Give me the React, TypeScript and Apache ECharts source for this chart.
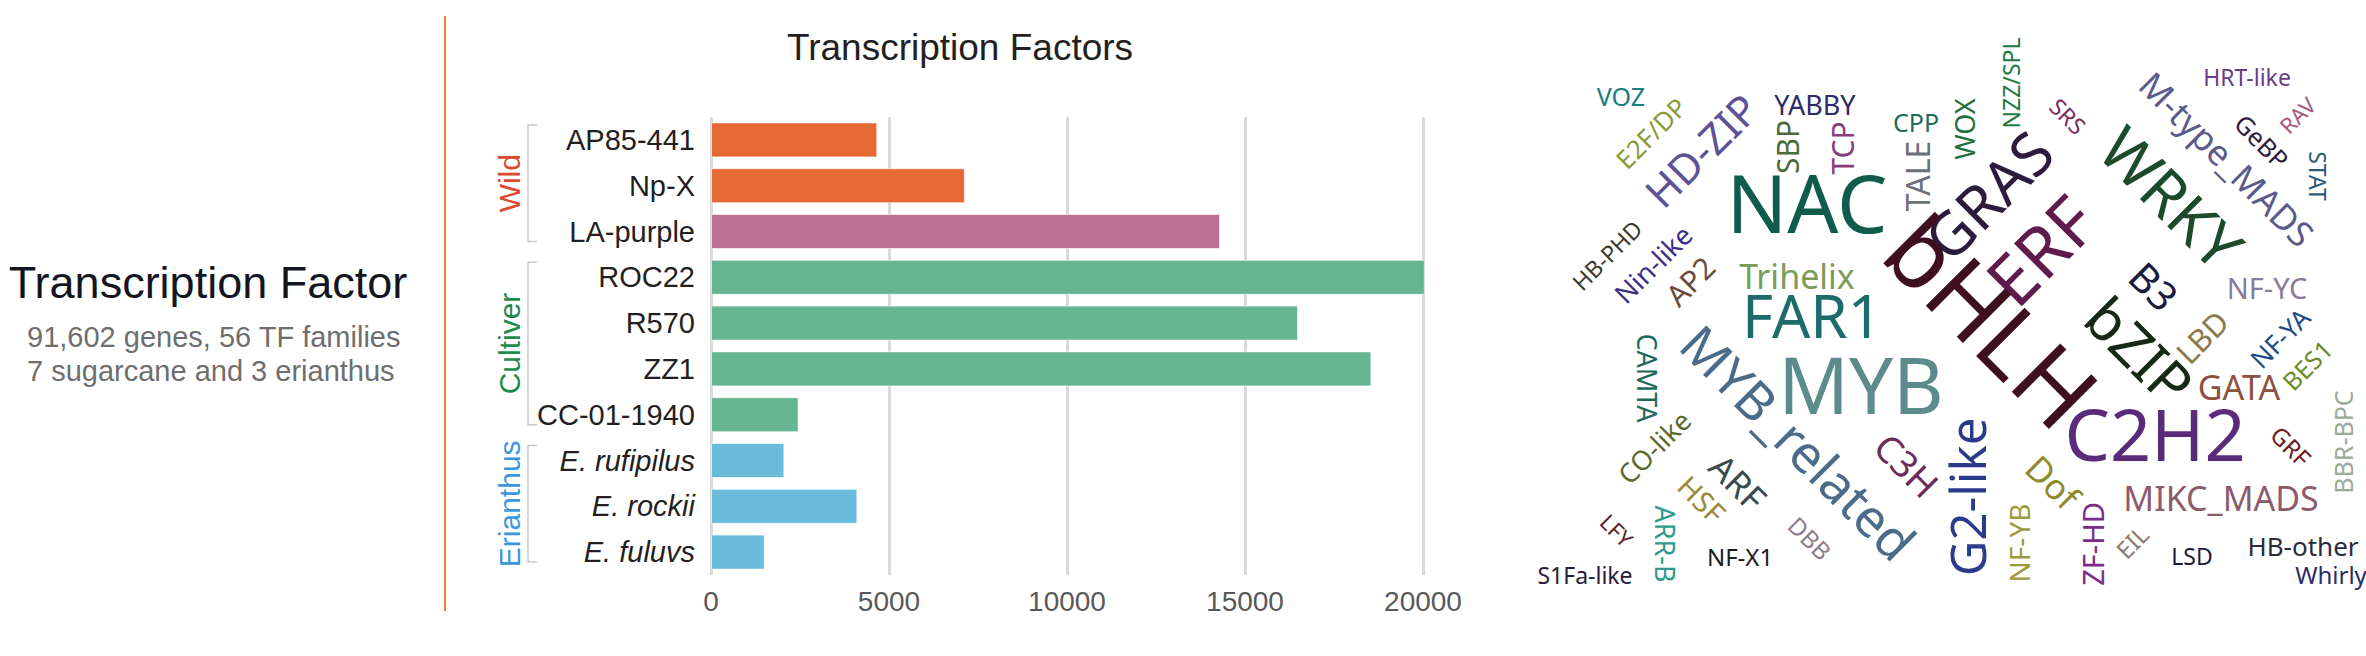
import React, { useEffect, useRef } from 'react';
import * as echarts from 'echarts';

// ---------------- data ----------------
const categories = ['AP85-441', 'Np-X', 'LA-purple', 'ROC22', 'R570', 'ZZ1', 'CC-01-1940', 'E. rufipilus', 'E. rockii', 'E. fuluvs'];
const geneCounts = [4670, 7130, 14300, 20050, 16490, 18550, 2460, 2060, 4110, 1510];
const groupNames = ['Wild', 'Cultiver', 'Erianthus'];
const groupMembers = [
  ['AP85-441', 'Np-X', 'LA-purple'],
  ['ROC22', 'R570', 'ZZ1', 'CC-01-1940'],
  ['E. rufipilus', 'E. rockii', 'E. fuluvs'],
];
const italicCategories = ['E. rufipilus', 'E. rockii', 'E. fuluvs'];
const xMin = 0;
const xMax = 20000;
const xInterval = 5000;

const chartTitle = 'Transcription Factors';
const sideTitle = 'Transcription Factor';
const sideLines = ['91,602 genes, 56 TF families', '7 sugarcane and 3 erianthus'];

// word cloud: TF families and their weights
const tfFamilies = [
  'VOZ', 'E2F/DP', 'HD-ZIP', 'YABBY', 'SBP', 'TCP', 'CPP', 'TALE', 'WOX', 'NZZ/SPL',
  'SRS', 'GRAS', 'ERF', 'bHLH', 'NAC', 'WRKY', 'M-type_MADS', 'HRT-like', 'GeBP', 'RAV',
  'STAT', 'B3', 'NF-YC', 'HB-PHD', 'Nin-like', 'AP2', 'Trihelix', 'FAR1', 'bZIP', 'LBD',
  'NF-YA', 'BES1', 'GATA', 'C2H2', 'GRF', 'BBR-BPC', 'MYB', 'MYB_related', 'CAMTA', 'CO-like',
  'ARF', 'HSF', 'C3H', 'G2-like', 'Dof', 'NF-YB', 'ZF-HD', 'EIL', 'MIKC_MADS', 'LSD',
  'HB-other', 'Whirly', 'DBB', 'LFY', 'ARR-B', 'NF-X1', 'S1Fa-like',
];
const tfWeights = [
  25, 26, 42, 27, 30, 30, 25, 32, 27, 23,
  23, 60, 70, 96, 80, 62, 35, 23, 25, 22,
  23, 40, 29, 23, 27, 30, 34, 60, 58, 31,
  26, 25, 34, 72, 24, 25, 78, 52, 27, 27,
  35, 29, 37, 49, 35, 28, 29, 24, 34, 23,
  26, 24, 24, 22, 27, 24, 23,
];

// ---------------- layout / styles ----------------
const W = 2366;
const H = 656;
const gridBox = { left: 711, top: 117, width: 712, height: 458 };
const barColorOf: Record<string, string> = {
  'AP85-441': '#E66935', 'Np-X': '#E66935', 'LA-purple': '#B87190',
  ROC22: '#65B592', R570: '#65B592', ZZ1: '#65B592', 'CC-01-1940': '#65B592',
  'E. rufipilus': '#6ABCDD', 'E. rockii': '#6ABCDD', 'E. fuluvs': '#6ABCDD',
};
const groupColor = ['#DC4A2B', '#1F8A4E', '#3C96DC'];
const ARIAL = "'Liberation Sans', Arial, Helvetica, sans-serif";
const CLOUD_FONT = "'Noto Sans', 'Open Sans', sans-serif";

// [x, y, angle (deg, ccw), color]
const cloudLayout: Record<string, [number, number, number, string]> = {
  VOZ: [1621, 96, 0, '#1b7c80'],
  'E2F/DP': [1651, 133, 45, '#8c9a3c'],
  'HD-ZIP': [1701, 150, 45, '#5d5298'],
  YABBY: [1815, 104, 0, '#2c2a6a'],
  SBP: [1787, 147, 90, '#4b6b3b'],
  TCP: [1842, 148, 90, '#8a3b7c'],
  CPP: [1916, 122, 0, '#1d6b5c'],
  TALE: [1917, 176, 90, '#6b7079'],
  WOX: [1964, 129, 90, '#21703d'],
  'NZZ/SPL': [2011, 83, 90, '#1f7a40'],
  SRS: [2068, 116, -45, '#7a2b5c'],
  GRAS: [1988, 195, 45, '#2d1b3e'],
  ERF: [2040, 250, 45, '#5f1b4b'],
  bHLH: [1993, 320, -45, '#3e0f1f'],
  NAC: [1807, 201, 0, '#0f5c4d'],
  WRKY: [2172, 197, -45, '#1c4b2c'],
  'M-type_MADS': [2227, 159, -45, '#5b5a8b'],
  'HRT-like': [2247, 77, 0, '#6b3b8b'],
  GeBP: [2262, 141, -45, '#2d1b3e'],
  RAV: [2297, 115, 45, '#a35b7c'],
  STAT: [2318, 176, -90, '#2b5b7b'],
  B3: [2154, 286, -45, '#1b1b3e'],
  'NF-YC': [2267, 287, 0, '#8b7b9b'],
  'HB-PHD': [1607, 255, 45, '#3b3b2b'],
  'Nin-like': [1653, 264, 45, '#3e2e8b'],
  AP2: [1690, 281, 45, '#6b4b3b'],
  Trihelix: [1797, 276, 0, '#7b9b5b'],
  FAR1: [1812, 315, 0, '#1e6b6b'],
  bZIP: [2140, 350, -45, '#152915'],
  LBD: [2202, 337, 45, '#8b7b4b'],
  'NF-YA': [2280, 338, 45, '#1b4b8b'],
  BES1: [2307, 365, 45, '#6b8b2b'],
  GATA: [2239, 387, 0, '#8b5141'],
  C2H2: [2155, 433, 0, '#5b2b7b'],
  GRF: [2291, 446, -45, '#6b1b1b'],
  'BBR-BPC': [2343, 442, 90, '#9bab9b'],
  MYB: [1861, 384, 0, '#5b8b8b'],
  MYB_related: [1799, 442, -45, '#4b6b8b'],
  CAMTA: [1647, 378, -90, '#1b6b5b'],
  'CO-like': [1654, 447, 45, '#5b6b2b'],
  ARF: [1738, 482, -45, '#3b4b4b'],
  HSF: [1702, 499, -45, '#9b8b3b'],
  C3H: [1907, 465, -45, '#6b2b5b'],
  'G2-like': [1967, 497, 90, '#2b3b8b'],
  Dof: [2053, 482, -45, '#8b8b2b'],
  'NF-YB': [2019, 543, 90, '#9b9b3b'],
  'ZF-HD': [2092, 544, 90, '#7b2b8b'],
  EIL: [2132, 542, 45, '#8b7b6b'],
  MIKC_MADS: [2221, 498, 0, '#8b5b6b'],
  LSD: [2192, 556, 0, '#1b1b3b'],
  'HB-other': [2303, 546, 0, '#2b2b3b'],
  Whirly: [2331, 574, 0, '#2b2b6b'],
  DBB: [1810, 538, -45, '#8b7b8b'],
  LFY: [1617, 530, -45, '#5b1b2b'],
  'ARR-B': [1665, 544, -90, '#2b9b8b'],
  'NF-X1': [1740, 556, 0, '#1b1b1b'],
  'S1Fa-like': [1585, 575, 0, '#2b1b3b'],
};

export default function App() {
  const ref = useRef<HTMLDivElement>(null);

  useEffect(() => {
    if (!ref.current) return;
    const chart = echarts.init(ref.current, null, { renderer: 'svg', width: W, height: H });

    chart.setOption({
      animation: false,
      backgroundColor: '#ffffff',
      grid: { ...gridBox, containLabel: false },
      xAxis: {
        type: 'value',
        min: xMin,
        max: xMax,
        interval: xInterval,
        axisLine: { show: false },
        axisTick: { show: false },
        splitLine: { show: true, lineStyle: { color: '#d9d9d9', width: 3 } },
        axisLabel: {
          fontSize: 28, color: '#595959', fontFamily: ARIAL, margin: 12,
          formatter: (v: number) => String(v),
        },
      },
      yAxis: {
        type: 'category',
        inverse: true,
        data: categories,
        axisLine: { show: false },
        axisTick: { show: false },
        axisLabel: {
          fontSize: 29,
          color: '#231f20',
          fontFamily: ARIAL,
          margin: 16,
          formatter: (v: string) => (italicCategories.includes(v) ? `{it|${v}}` : v),
          rich: { it: { fontStyle: 'italic', fontSize: 29, color: '#231f20', fontFamily: ARIAL } },
        },
      },
      series: [
        {
          type: 'bar',
          barWidth: 35,
          clip: false,
          data: categories.map((c, i) => ({
            value: geneCounts[i],
            itemStyle: { color: barColorOf[c], borderColor: 'rgba(255,255,255,0.6)', borderWidth: 1 },
          })),
        },
      ],
    });

    const graphics: any[] = [];
    // left texts + divider
    graphics.push({
      type: 'text', x: 208, y: 282,
      style: { text: sideTitle, fontSize: 45, fontFamily: ARIAL, fill: '#14161f', align: 'center', verticalAlign: 'middle', textAlign: 'center', textVerticalAlign: 'middle' },
    });
    sideLines.forEach((t, i) => {
      graphics.push({
        type: 'text', x: 27, y: 337 + i * 34,
        style: { text: t, fontSize: 29, fontFamily: ARIAL, fill: '#6e6e6e', align: 'left', verticalAlign: 'middle', textAlign: 'left', textVerticalAlign: 'middle' },
      });
    });
    graphics.push({
      type: 'line', shape: { x1: 445, y1: 16, x2: 445, y2: 611 },
      style: { stroke: '#ED7D31', lineWidth: 2 },
    });
    graphics.push({
      type: 'text', x: 960, y: 47,
      style: { text: chartTitle, fontSize: 37, fontFamily: ARIAL, fill: '#231f20', align: 'center', verticalAlign: 'middle', textAlign: 'center', textVerticalAlign: 'middle' },
    });

    // group brackets + labels
    groupNames.forEach((g, gi) => {
      const members = groupMembers[gi];
      const yTop = (chart.convertToPixel({ yAxisIndex: 0 }, members[0]) as number) - 15;
      const yBot = (chart.convertToPixel({ yAxisIndex: 0 }, members[members.length - 1]) as number) + 10;
      graphics.push({
        type: 'polyline',
        shape: { points: [[537, yTop], [528, yTop], [528, yBot], [537, yBot]] },
        style: { stroke: '#c9c9c9', lineWidth: 1.5, fill: 'none' },
      });
      graphics.push({
        type: 'text', x: 509, y: (yTop + yBot) / 2, rotation: Math.PI / 2,
        style: { text: g, fontSize: 30, fontFamily: ARIAL, fill: groupColor[gi], align: 'center', verticalAlign: 'middle', textAlign: 'center', textVerticalAlign: 'middle' },
      });
    });

    // word cloud
    tfFamilies.forEach((name, i) => {
      const l = cloudLayout[name];
      if (!l) return;
      graphics.push({
        type: 'text', x: l[0], y: l[1], rotation: (l[2] * Math.PI) / 180,
        style: {
          text: name, fontSize: tfWeights[i], fontFamily: CLOUD_FONT, fill: l[3],
          align: 'center', verticalAlign: 'middle', textAlign: 'center', textVerticalAlign: 'middle',
        },
      });
    });

    chart.setOption({ graphic: graphics });

    return () => chart.dispose();
  }, []);

  return <div ref={ref} style={{ position: 'absolute', left: 0, top: 0, width: W, height: H }} />;
}
